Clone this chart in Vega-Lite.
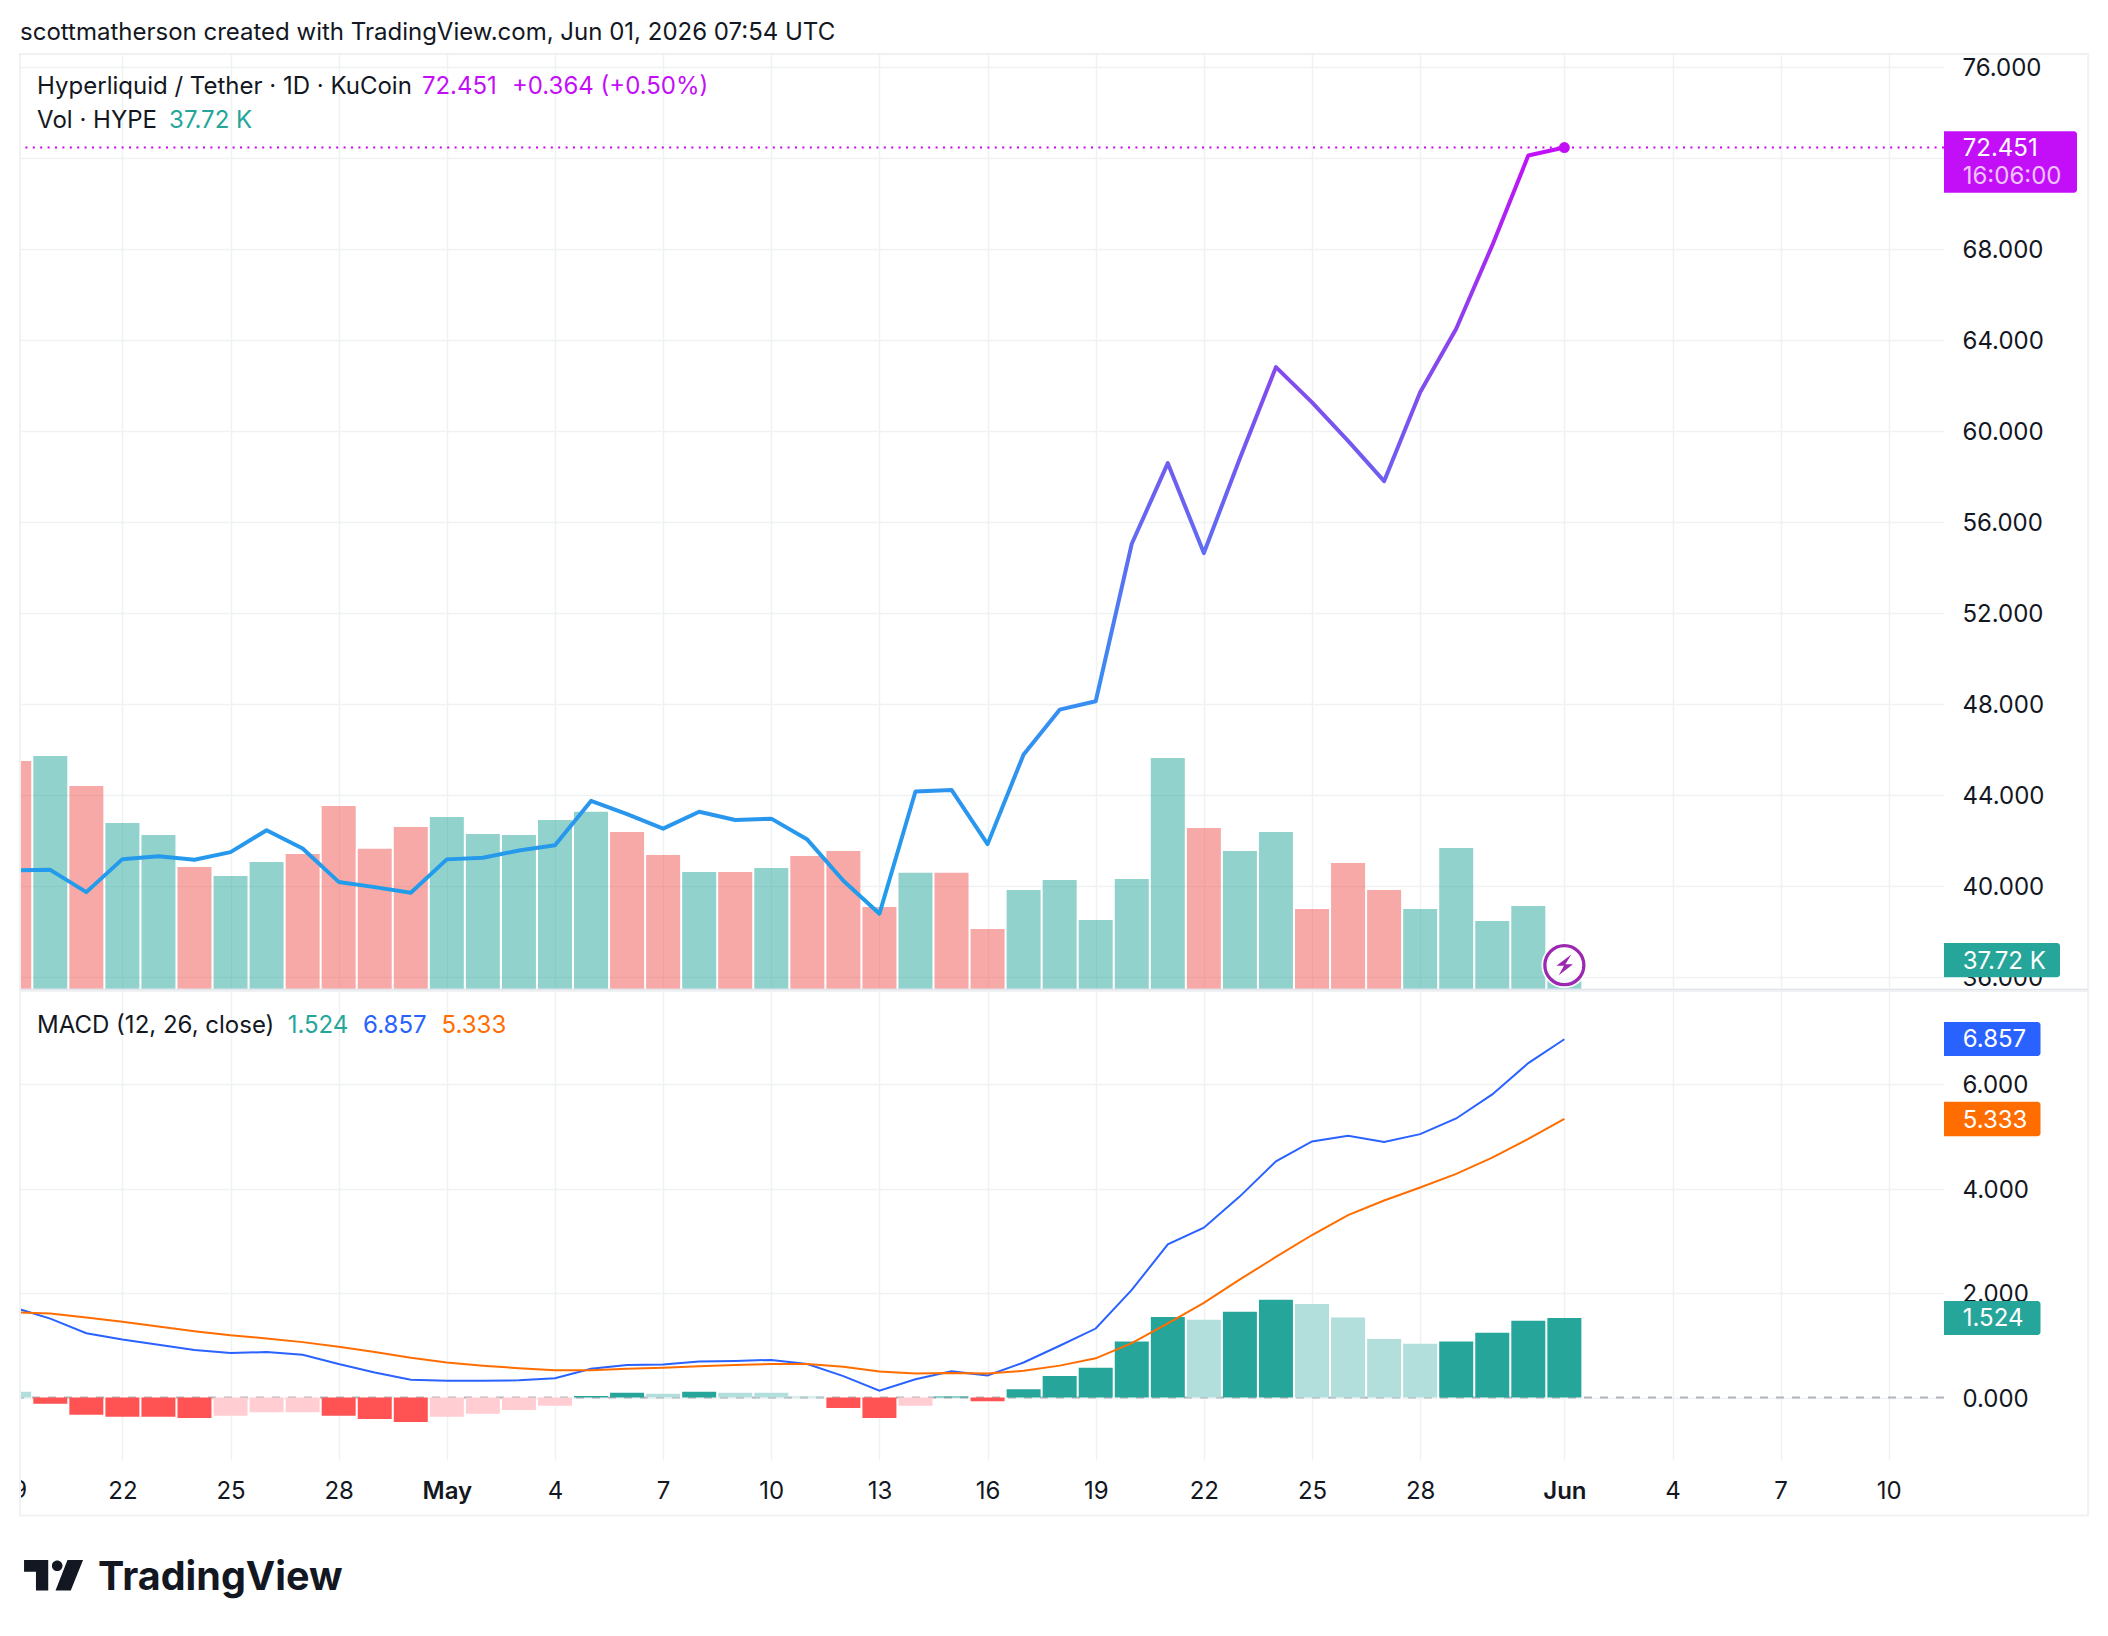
{
  "$schema": "https://vega.github.io/schema/vega-lite/v6.json",
  "autosize": {"type": "none"},
  "padding": {"left": 20, "top": 54, "right": 2088, "bottom": 1582},
  "background": "#ffffff",
  "bounds": "flush",
  "spacing": 1,
  "config": {
    "view": {"stroke": null},
    "text": {"font": "Inter", "fontSize": 24, "baseline": "middle", "align": "left", "dy": 1.5},
    "axis": {"labelFont": "Inter", "labelFontSize": 24, "labelColor": "#131722", "title": null, "domain": false, "ticks": false, "gridColor": "#f0f1f3", "gridWidth": 1.5}
  },
  "datasets": {
    "days": [
      {"d": "2026-04-19", "close": 40.69, "vol": 760.5, "dir": "down", "macd": 1.72, "signal": 1.63, "hist": 0.11, "hs": "fall_up"},
      {"d": "2026-04-20", "close": 40.71, "vol": 777.6, "dir": "up", "macd": 1.51, "signal": 1.61, "hist": -0.12, "hs": "grow_down"},
      {"d": "2026-04-21", "close": 39.73, "vol": 677, "dir": "down", "macd": 1.23, "signal": 1.53, "hist": -0.33, "hs": "grow_down"},
      {"d": "2026-04-22", "close": 41.18, "vol": 553.4, "dir": "up", "macd": 1.11, "signal": 1.45, "hist": -0.37, "hs": "grow_down"},
      {"d": "2026-04-23", "close": 41.31, "vol": 513.4, "dir": "up", "macd": 1.01, "signal": 1.36, "hist": -0.37, "hs": "grow_down"},
      {"d": "2026-04-24", "close": 41.15, "vol": 406.5, "dir": "down", "macd": 0.91, "signal": 1.27, "hist": -0.39, "hs": "grow_down"},
      {"d": "2026-04-25", "close": 41.49, "vol": 376.4, "dir": "up", "macd": 0.85, "signal": 1.19, "hist": -0.35, "hs": "fall_down"},
      {"d": "2026-04-26", "close": 42.45, "vol": 423.2, "dir": "up", "macd": 0.87, "signal": 1.13, "hist": -0.28, "hs": "fall_down"},
      {"d": "2026-04-27", "close": 41.65, "vol": 449.9, "dir": "down", "macd": 0.82, "signal": 1.06, "hist": -0.28, "hs": "fall_down"},
      {"d": "2026-04-28", "close": 40.18, "vol": 610.2, "dir": "down", "macd": 0.64, "signal": 0.97, "hist": -0.35, "hs": "grow_down"},
      {"d": "2026-04-29", "close": 39.95, "vol": 467.3, "dir": "down", "macd": 0.48, "signal": 0.87, "hist": -0.41, "hs": "grow_down"},
      {"d": "2026-04-30", "close": 39.7, "vol": 540.1, "dir": "down", "macd": 0.34, "signal": 0.76, "hist": -0.47, "hs": "grow_down"},
      {"d": "2026-05-01", "close": 41.17, "vol": 573.5, "dir": "up", "macd": 0.32, "signal": 0.67, "hist": -0.37, "hs": "fall_down"},
      {"d": "2026-05-02", "close": 41.24, "vol": 516.7, "dir": "up", "macd": 0.32, "signal": 0.61, "hist": -0.31, "hs": "fall_down"},
      {"d": "2026-05-03", "close": 41.56, "vol": 513.4, "dir": "up", "macd": 0.33, "signal": 0.56, "hist": -0.24, "hs": "fall_down"},
      {"d": "2026-05-04", "close": 41.79, "vol": 563.5, "dir": "up", "macd": 0.37, "signal": 0.52, "hist": -0.16, "hs": "fall_down"},
      {"d": "2026-05-05", "close": 43.74, "vol": 591.2, "dir": "up", "macd": 0.55, "signal": 0.52, "hist": 0.03, "hs": "grow_up"},
      {"d": "2026-05-06", "close": 43.16, "vol": 523.4, "dir": "down", "macd": 0.62, "signal": 0.55, "hist": 0.09, "hs": "grow_up"},
      {"d": "2026-05-07", "close": 42.52, "vol": 446.6, "dir": "down", "macd": 0.63, "signal": 0.57, "hist": 0.07, "hs": "fall_up"},
      {"d": "2026-05-08", "close": 43.26, "vol": 389.8, "dir": "up", "macd": 0.69, "signal": 0.6, "hist": 0.11, "hs": "grow_up"},
      {"d": "2026-05-09", "close": 42.9, "vol": 389.8, "dir": "down", "macd": 0.7, "signal": 0.62, "hist": 0.09, "hs": "fall_up"},
      {"d": "2026-05-10", "close": 42.96, "vol": 403.1, "dir": "up", "macd": 0.72, "signal": 0.64, "hist": 0.09, "hs": "fall_up"},
      {"d": "2026-05-11", "close": 42.04, "vol": 443.2, "dir": "down", "macd": 0.64, "signal": 0.64, "hist": 0.02, "hs": "fall_up"},
      {"d": "2026-05-12", "close": 40.23, "vol": 459.9, "dir": "down", "macd": 0.41, "signal": 0.59, "hist": -0.2, "hs": "grow_down"},
      {"d": "2026-05-13", "close": 38.78, "vol": 272.9, "dir": "down", "macd": 0.13, "signal": 0.5, "hist": -0.39, "hs": "grow_down"},
      {"d": "2026-05-14", "close": 44.15, "vol": 387.1, "dir": "up", "macd": 0.35, "signal": 0.46, "hist": -0.16, "hs": "fall_down"},
      {"d": "2026-05-15", "close": 44.22, "vol": 387.1, "dir": "down", "macd": 0.5, "signal": 0.47, "hist": 0.02, "hs": "grow_up"},
      {"d": "2026-05-16", "close": 41.84, "vol": 199.4, "dir": "down", "macd": 0.42, "signal": 0.46, "hist": -0.07, "hs": "grow_down"},
      {"d": "2026-05-17", "close": 45.78, "vol": 329.7, "dir": "up", "macd": 0.67, "signal": 0.51, "hist": 0.16, "hs": "grow_up"},
      {"d": "2026-05-18", "close": 47.75, "vol": 363.1, "dir": "up", "macd": 0.99, "signal": 0.61, "hist": 0.41, "hs": "grow_up"},
      {"d": "2026-05-19", "close": 48.12, "vol": 229.5, "dir": "up", "macd": 1.32, "signal": 0.75, "hist": 0.57, "hs": "grow_up"},
      {"d": "2026-05-20", "close": 55.04, "vol": 366.4, "dir": "up", "macd": 2.06, "signal": 1.04, "hist": 1.07, "hs": "grow_up"},
      {"d": "2026-05-21", "close": 58.58, "vol": 770.5, "dir": "up", "macd": 2.93, "signal": 1.42, "hist": 1.54, "hs": "grow_up"},
      {"d": "2026-05-22", "close": 54.63, "vol": 536.7, "dir": "down", "macd": 3.25, "signal": 1.81, "hist": 1.49, "hs": "fall_up"},
      {"d": "2026-05-23", "close": 58.8, "vol": 459.9, "dir": "up", "macd": 3.85, "signal": 2.26, "hist": 1.64, "hs": "grow_up"},
      {"d": "2026-05-24", "close": 62.8, "vol": 523.4, "dir": "up", "macd": 4.52, "signal": 2.69, "hist": 1.87, "hs": "grow_up"},
      {"d": "2026-05-25", "close": 61.25, "vol": 266.2, "dir": "down", "macd": 4.9, "signal": 3.11, "hist": 1.79, "hs": "fall_up"},
      {"d": "2026-05-26", "close": 59.56, "vol": 419.8, "dir": "down", "macd": 5.01, "signal": 3.49, "hist": 1.53, "hs": "fall_up"},
      {"d": "2026-05-27", "close": 57.79, "vol": 329.7, "dir": "down", "macd": 4.89, "signal": 3.77, "hist": 1.12, "hs": "fall_up"},
      {"d": "2026-05-28", "close": 61.7, "vol": 266.2, "dir": "up", "macd": 5.04, "signal": 4.02, "hist": 1.03, "hs": "fall_up"},
      {"d": "2026-05-29", "close": 64.49, "vol": 469.9, "dir": "up", "macd": 5.34, "signal": 4.28, "hist": 1.07, "hs": "grow_up"},
      {"d": "2026-05-30", "close": 68.15, "vol": 226.1, "dir": "up", "macd": 5.8, "signal": 4.59, "hist": 1.24, "hs": "grow_up"},
      {"d": "2026-05-31", "close": 72.1, "vol": 276.2, "dir": "up", "macd": 6.4, "signal": 4.95, "hist": 1.47, "hs": "grow_up"},
      {"d": "2026-06-01", "close": 72.451, "vol": 37.72, "dir": "up", "macd": 6.857, "signal": 5.333, "hist": 1.524, "hs": "grow_up"}
    ]
  },
  "vconcat": [
    {
      "width": 1924,
      "height": 936,
      "data": {"name": "days"},
      "encoding": {
        "x": {
          "field": "d",
          "type": "temporal",
          "scale": {"type": "utc", "nice": false, "padding": 0, "domain": ["2026-04-19T03:50:00Z", "2026-06-11T12:45:00Z"]},
          "axis": {
            "labels": false,
            "grid": true,
            "values": ["2026-04-22", "2026-04-25", "2026-04-28", "2026-05-01", "2026-05-04", "2026-05-07", "2026-05-10", "2026-05-13", "2026-05-16", "2026-05-19", "2026-05-22", "2026-05-25", "2026-05-28", "2026-06-01", "2026-06-04", "2026-06-07", "2026-06-10"]
          }
        }
      },
      "resolve": {"scale": {"y": "independent", "color": "independent"}},
      "layer": [
        {
          "mark": {"type": "bar", "size": 34, "clip": true, "opacity": 0.5},
          "encoding": {
            "y": {"field": "vol", "type": "quantitative", "stack": null, "axis": null, "scale": {"domain": [-4.3, 3122], "nice": false, "zero": false}},
            "color": {"field": "dir", "type": "nominal", "legend": null, "scale": {"domain": ["up", "down"], "range": ["#26a69a", "#ef5350"]}}
          }
        },
        {
          "encoding": {
            "y": {
              "field": "close",
              "type": "quantitative",
              "scale": {"domain": [35.43, 76.56], "nice": false, "zero": false},
              "axis": {
                "orient": "right",
                "grid": true,
                "format": ".3f",
                "labelPadding": 18,
                "labelOffset": 1.5,
                "values": [36, 40, 44, 48, 52, 56, 60, 64, 68, 72, 76]
              }
            }
          },
          "layer": [
            {
              "data": {"values": [{"close": 72.451}]},
              "mark": {"type": "rule", "color": "#d000f8", "strokeWidth": 2, "strokeDash": [2, 5.4]},
              "encoding": {"x": null}
            },
            {
              "mark": {
                "type": "line",
                "clip": true,
                "strokeWidth": 4,
                "strokeJoin": "round",
                "stroke": {
                  "gradient": "linear",
                  "x1": 0, "y1": 1, "x2": 0, "y2": 0,
                  "stops": [
                    {"offset": 0, "color": "#1e9eea"},
                    {"offset": 0.3, "color": "#3a8cf3"},
                    {"offset": 0.5, "color": "#6468f2"},
                    {"offset": 0.75, "color": "#8a44ee"},
                    {"offset": 1, "color": "#c30ff8"}
                  ]
                }
              }
            },
            {
              "data": {"values": [{"d": "2026-06-01", "close": 72.451}]},
              "mark": {"type": "point", "filled": true, "size": 120, "color": "#c30ff8", "opacity": 1}
            },
            {
              "data": {
                "values": [{"d": "2026-04-19T03:50:00Z", "d2": "2026-06-15T12:45:00Z", "close": 76.56, "close2": 35.43}],
                "format": {"parse": {"d": "date", "d2": "date"}}
              },
              "mark": {"type": "rect", "filled": false, "stroke": "#f0f1f3", "strokeWidth": 2},
              "encoding": {"x2": {"field": "d2"}, "y2": {"field": "close2"}}
            },
            {
              "data": {
                "values": [{"d": "2026-04-19T03:50:00Z", "d2": "2026-06-15T12:45:00Z", "close": 35.43}],
                "format": {"parse": {"d": "date", "d2": "date"}}
              },
              "mark": {"type": "rule", "stroke": "#e0e3eb", "strokeWidth": 2.5},
              "encoding": {"x2": {"field": "d2"}}
            },
            {
              "data": {
                "values": [
                  {"d": "2026-06-11T12:45:00Z", "d2": "2026-06-15T05:17:00Z", "close": 73.17, "close2": 70.46, "tone": "price"},
                  {"d": "2026-06-11T12:45:00Z", "d2": "2026-06-14T18:00:00Z", "close": 37.49, "close2": 35.99, "tone": "up"}
                ],
                "format": {"parse": {"d": "date", "d2": "date"}}
              },
              "mark": {"type": "rect", "cornerRadiusTopRight": 3, "cornerRadiusBottomRight": 3},
              "encoding": {
                "x2": {"field": "d2"},
                "y2": {"field": "close2"},
                "color": {"field": "tone", "type": "nominal", "legend": null, "scale": {"domain": ["ink", "price", "up", "white", "muted"], "range": ["#131722", "#c30ff8", "#26a69a", "#ffffff", "#efc4fc"]}}
              }
            },
            {
              "data": {
                "values": [
                  {"d": "2026-04-19T03:50:00Z", "close": 77.53, "label": "scottmatherson created with TradingView.com, Jun 01, 2026 07:54 UTC", "tone": "ink"},
                  {"d": "2026-04-19T15:13:00Z", "close": 75.16, "label": "Hyperliquid / Tether · 1D · KuCoin", "tone": "ink"},
                  {"d": "2026-04-30T07:24:00Z", "close": 75.16, "label": "72.451", "tone": "price"},
                  {"d": "2026-05-02T19:19:00Z", "close": 75.16, "label": "+0.364 (+0.50%)", "tone": "price"},
                  {"d": "2026-04-19T15:13:00Z", "close": 73.66, "label": "Vol · HYPE", "tone": "ink"},
                  {"d": "2026-04-23T07:05:00Z", "close": 73.66, "label": "37.72 K", "tone": "up"},
                  {"d": "2026-06-12T01:12:00Z", "close": 72.45, "label": "72.451", "tone": "white"},
                  {"d": "2026-06-12T01:12:00Z", "close": 71.21, "label": "16:06:00", "tone": "muted"},
                  {"d": "2026-06-12T01:12:00Z", "close": 36.73, "label": "37.72 K", "tone": "white"}
                ],
                "format": {"parse": {"d": "date"}}
              },
              "mark": {"type": "text"},
              "encoding": {
                "text": {"field": "label"},
                "color": {"field": "tone", "type": "nominal", "legend": null, "scale": {"domain": ["ink", "price", "up", "white", "muted"], "range": ["#131722", "#c30ff8", "#26a69a", "#ffffff", "#efc4fc"]}}
              }
            },
            {
              "data": {"values": [{"d": "2026-06-01", "close": 36.52}]},
              "mark": {"type": "point", "filled": true, "size": 2116, "color": "#ffffff", "opacity": 0.9}
            },
            {
              "data": {"values": [{"d": "2026-06-01", "close": 36.52}]},
              "mark": {"type": "point", "filled": false, "size": 1521, "stroke": "#9c27b0", "strokeWidth": 3.3, "opacity": 1}
            },
            {
              "data": {"values": [{"d": "2026-06-01", "close": 36.52}]},
              "mark": {"type": "point", "filled": true, "size": 1600, "color": "#9c27b0", "opacity": 1, "shape": "M.35 -.53 L-.4 .03 L-.02 .03 L-.28 .5 L.43 -.05 L.05 -.05 Z"}
            }
          ]
        }
      ]
    },
    {
      "width": 1924,
      "height": 469,
      "data": {"name": "days"},
      "encoding": {
        "x": {
          "field": "d",
          "type": "temporal",
          "scale": {"type": "utc", "nice": false, "padding": 0, "domain": ["2026-04-19T03:50:00Z", "2026-06-11T12:45:00Z"]},
          "axis": {
            "grid": true,
            "labelPadding": 19,
            "labelAngle": 0,
            "labelOverlap": false,
            "labelFontWeight": {"condition": {"test": "utcdate(datum.value) == 1", "value": 600}, "value": 400},
            "labelExpr": "utcdate(datum.value) == 1 ? utcFormat(datum.value, '%b') : utcFormat(datum.value, '%-d')",
            "values": ["2026-04-22", "2026-04-25", "2026-04-28", "2026-05-01", "2026-05-04", "2026-05-07", "2026-05-10", "2026-05-13", "2026-05-16", "2026-05-19", "2026-05-22", "2026-05-25", "2026-05-28", "2026-06-01", "2026-06-04", "2026-06-07", "2026-06-10"]
          }
        }
      },
      "resolve": {"scale": {"color": "independent"}},
      "layer": [
        {
          "data": {"values": [{"macd": 0}]},
          "mark": {"type": "rule", "stroke": "#b2b5be", "strokeWidth": 2, "strokeDash": [8, 8]},
          "encoding": {
            "x": null,
            "y": {
              "field": "macd",
              "type": "quantitative",
              "scale": {"domain": [-1.196, 7.78], "nice": false, "zero": false},
              "axis": {"orient": "right", "grid": true, "format": ".3f", "labelPadding": 18, "labelOffset": 1.5, "values": [0, 2, 4, 6]}
            }
          }
        },
        {
          "mark": {"type": "bar", "size": 34, "clip": true},
          "encoding": {
            "y": {"field": "hist", "type": "quantitative", "stack": null},
            "color": {"field": "hs", "type": "nominal", "legend": null, "scale": {"domain": ["grow_up", "fall_up", "fall_down", "grow_down"], "range": ["#26a69a", "#b2dfdb", "#ffcdd2", "#ff5252"]}}
          }
        },
        {
          "mark": {"type": "line", "clip": true, "strokeWidth": 2, "color": "#2962ff"},
          "encoding": {"y": {"field": "macd", "type": "quantitative"}}
        },
        {
          "mark": {"type": "line", "clip": true, "strokeWidth": 2, "color": "#ff6d00"},
          "encoding": {"y": {"field": "signal", "type": "quantitative"}}
        },
        {
          "data": {
            "values": [{"d": "2026-04-19T08:33:00Z", "macd": -1.77, "label": "9"}],
            "format": {"parse": {"d": "date"}}
          },
          "mark": {"type": "text", "align": "right", "color": "#131722"},
          "encoding": {"y": {"field": "macd", "type": "quantitative"}, "text": {"field": "label"}}
        },
        {
          "data": {
            "values": [{"d": "2026-04-18T12:00:00Z", "d2": "2026-04-19T03:50:00Z", "macd": -1.3, "macd2": -2.2}],
            "format": {"parse": {"d": "date", "d2": "date"}}
          },
          "mark": {"type": "rect", "color": "#ffffff"},
          "encoding": {"x2": {"field": "d2"}, "y": {"field": "macd", "type": "quantitative"}, "y2": {"field": "macd2"}}
        },
        {
          "data": {
            "values": [{"d": "2026-04-19T03:50:00Z", "d2": "2026-06-15T12:45:00Z", "macd": 7.78, "macd2": -2.258}],
            "format": {"parse": {"d": "date", "d2": "date"}}
          },
          "mark": {"type": "rect", "filled": false, "stroke": "#f0f1f3", "strokeWidth": 2},
          "encoding": {"x2": {"field": "d2"}, "y": {"field": "macd", "type": "quantitative"}, "y2": {"field": "macd2"}}
        },
        {
          "data": {
            "values": [
              {"d": "2026-06-11T12:45:00Z", "d2": "2026-06-14T05:00:00Z", "macd": 7.187, "macd2": 6.536, "tone": "macd"},
              {"d": "2026-06-11T12:45:00Z", "d2": "2026-06-14T05:00:00Z", "macd": 5.66, "macd2": 5.0, "tone": "signal"},
              {"d": "2026-06-11T12:45:00Z", "d2": "2026-06-14T05:00:00Z", "macd": 1.847, "macd2": 1.196, "tone": "up"}
            ],
            "format": {"parse": {"d": "date", "d2": "date"}}
          },
          "mark": {"type": "rect", "cornerRadiusTopRight": 3, "cornerRadiusBottomRight": 3},
          "encoding": {
            "x2": {"field": "d2"},
            "y": {"field": "macd", "type": "quantitative"},
            "y2": {"field": "macd2"},
            "color": {"field": "tone", "type": "nominal", "legend": null, "scale": {"domain": ["ink", "macd", "signal", "up", "white"], "range": ["#131722", "#2962ff", "#ff6d00", "#26a69a", "#ffffff"]}}
          }
        },
        {
          "data": {
            "values": [
              {"d": "2026-04-19T15:13:00Z", "macd": 7.148, "label": "MACD (12, 26, close)", "tone": "ink"},
              {"d": "2026-04-26T14:02:00Z", "macd": 7.148, "label": "1.524", "tone": "up"},
              {"d": "2026-04-28T16:15:00Z", "macd": 7.148, "label": "6.857", "tone": "macd"},
              {"d": "2026-04-30T20:30:00Z", "macd": 7.148, "label": "5.333", "tone": "signal"},
              {"d": "2026-06-12T01:12:00Z", "macd": 6.867, "label": "6.857", "tone": "white"},
              {"d": "2026-06-12T01:12:00Z", "macd": 5.33, "label": "5.333", "tone": "white"},
              {"d": "2026-06-12T01:12:00Z", "macd": 1.527, "label": "1.524", "tone": "white"}
            ],
            "format": {"parse": {"d": "date"}}
          },
          "mark": {"type": "text"},
          "encoding": {
            "y": {"field": "macd", "type": "quantitative"},
            "text": {"field": "label"},
            "color": {"field": "tone", "type": "nominal", "legend": null, "scale": {"domain": ["ink", "macd", "signal", "up", "white"], "range": ["#131722", "#2962ff", "#ff6d00", "#26a69a", "#ffffff"]}}
          }
        },
        {
          "data": {
            "values": [{"d": "2026-04-21T07:49:00Z", "macd": -3.435, "label": "TradingView"}],
            "format": {"parse": {"d": "date"}}
          },
          "mark": {"type": "text", "fontSize": 39.5, "fontWeight": 700, "color": "#131722"},
          "encoding": {"y": {"field": "macd", "type": "quantitative"}, "text": {"field": "label"}}
        },
        {
          "data": {"values": [{"d": "2026-04-20T02:10:00Z", "macd": -3.403}]},
          "mark": {
            "type": "point",
            "filled": true,
            "opacity": 1,
            "size": 3481,
            "color": "#131722",
            "shape": "M-1 -.517 H-.18 V.517 H-.596 V-.124 H-1 Z M-.056 -.326 A.18 .18 0 1 1 .304 -.326 A.18 .18 0 1 1 -.056 -.326 Z M.472 -.517 L1 -.517 L.584 .517 L.067 .517 Z"
          },
          "encoding": {"y": {"field": "macd", "type": "quantitative"}}
        }
      ]
    }
  ],
  "resolve": {"scale": {"color": "independent"}}
}
